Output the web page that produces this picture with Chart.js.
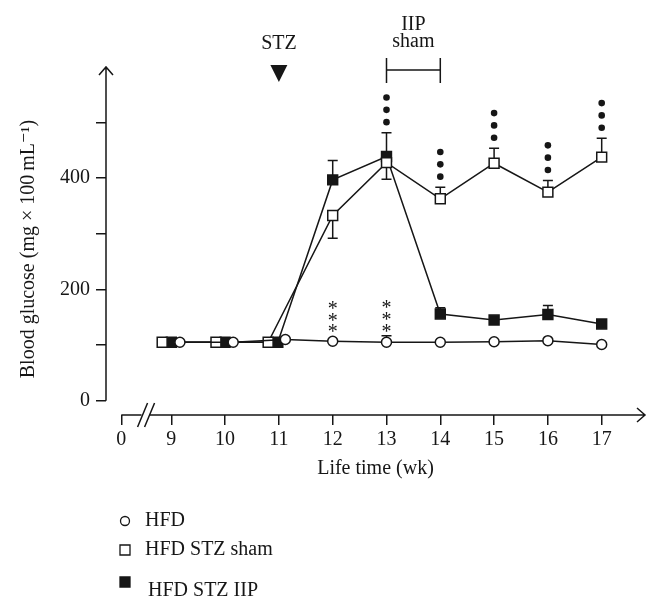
<!DOCTYPE html>
<html>
<head>
<meta charset="utf-8">
<script src="https://cdn.jsdelivr.net/npm/chart.js@4.4.1/dist/chart.umd.min.js"></script>
<style>
  html, body { margin: 0; padding: 0; background: #fff; }
  #wrap { width: 660px; height: 598px; position: relative; }
</style>
</head>
<body>
<div id="wrap"><canvas id="glucoseChart"></canvas></div>
<script>
/* ── Data ── */
const SERIES_NAMES = ['HFD', 'HFD STZ sham', 'HFD STZ IIP'];

const HFD_WEEKS  = [9.16, 10.15, 11.12, 12, 13, 14, 15, 16, 17];
const HFD_VALUES = [105, 105, 110, 107, 105, 105, 106, 108, 101];
const HFD_ERR    = [0, 0, 0, 0, 12, 0, 0, 0, 0];

const SHAM_WEEKS  = [8.83, 9.83, 10.8, 12, 13, 14, 15, 16, 17];
const SHAM_VALUES = [105, 105, 105, 333, 428, 363, 427, 375, 438];
const SHAM_ERR    = [0, 0, 0, -41, -30, 21, 27, 21, 34]; // negative = bar drawn downward

const IIP_WEEKS  = [9, 10, 10.98, 12, 13, 14, 15, 16, 17];
const IIP_VALUES = [105, 105, 105, 397, 439, 156, 145, 155, 138];
const IIP_ERR    = [0, 0, 0, 35, 43, 11, 0, 16, 0];

const X_TICKS       = [8.07, 9, 10, 11, 12, 13, 14, 15, 16, 17];
const X_TICK_LABELS = ['0', '9', '10', '11', '12', '13', '14', '15', '16', '17'];
const Y_TICKS       = [0, 100, 200, 300, 400, 500];
const Y_TICK_LABELS = ['0', '', '200', '', '400', ''];

const STZ_WEEK   = 11;
const IIP_PERIOD = [13, 14];
const DOT_WEEKS  = [13, 14, 15, 16, 17];
const STAR_WEEKS = [12, 13];
const AXIS_BREAK = 8.54;

const INK = '#161616';
const SERIF = "'Liberation Serif', 'DejaVu Serif', serif";

const toXY = (xs, ys) => xs.map((x, i) => ({ x: x, y: ys[i] }));
const ERRS = [HFD_ERR, SHAM_ERR, IIP_ERR];

/* ── Extras drawn on the canvas ── */
const figureExtras = {
  id: 'figureExtras',
  beforeDatasetsDraw(chart) {
    const { ctx, scales: { x, y } } = chart;
    ctx.save();
    ctx.strokeStyle = INK;
    ctx.lineWidth = 1.5;
    chart.data.datasets.forEach((ds, i) => {
      const meta = chart.getDatasetMeta(i);
      meta.data.forEach((pt, j) => {
        const e = ERRS[i][j];
        if (!e) return;
        const yEnd = y.getPixelForValue(ds.data[j].y + e);
        ctx.beginPath();
        ctx.moveTo(pt.x, pt.y);
        ctx.lineTo(pt.x, yEnd);
        ctx.moveTo(pt.x - 5, yEnd);
        ctx.lineTo(pt.x + 5, yEnd);
        ctx.stroke();
      });
    });
    ctx.restore();
  },
  afterDraw(chart) {
    const { ctx, chartArea: ca, scales: { x, y } } = chart;
    ctx.save();
    ctx.strokeStyle = INK;
    ctx.fillStyle = INK;
    ctx.lineWidth = 1.5;

    // y axis with arrow
    const y0 = y.getPixelForValue(0);
    ctx.beginPath();
    ctx.moveTo(ca.left, y0);
    ctx.lineTo(ca.left, ca.top);
    ctx.moveTo(ca.left - 7, ca.top + 8);
    ctx.lineTo(ca.left, ca.top);
    ctx.lineTo(ca.left + 7, ca.top + 8);
    ctx.stroke();

    // x axis with arrow
    const xStart = x.getPixelForValue(X_TICKS[0]);
    ctx.beginPath();
    ctx.moveTo(xStart, ca.bottom);
    ctx.lineTo(ca.right, ca.bottom);
    ctx.moveTo(ca.right - 8, ca.bottom - 7);
    ctx.lineTo(ca.right, ca.bottom);
    ctx.lineTo(ca.right - 8, ca.bottom + 7);
    ctx.stroke();

    // axis break //
    const xb = x.getPixelForValue(AXIS_BREAK);
    ctx.fillStyle = '#fff';
    ctx.fillRect(xb - 5, ca.bottom - 2, 8, 4);
    ctx.fillStyle = INK;
    ctx.beginPath();
    [-4, 3].forEach(dx => {
      ctx.moveTo(xb + dx - 5, ca.bottom + 12);
      ctx.lineTo(xb + dx + 5, ca.bottom - 12);
    });
    ctx.stroke();

    // STZ marker
    const xs = x.getPixelForValue(STZ_WEEK);
    ctx.beginPath();
    ctx.moveTo(xs - 8.5, ca.top - 2);
    ctx.lineTo(xs + 8.5, ca.top - 2);
    ctx.lineTo(xs, ca.top + 15);
    ctx.closePath();
    ctx.fill();

    ctx.font = '20px ' + SERIF;
    ctx.textAlign = 'center';
    ctx.textBaseline = 'middle';
    ctx.fillText('STZ', xs, ca.top - 23);

    // IIP / sham bracket
    const xa = x.getPixelForValue(IIP_PERIOD[0]);
    const xe = x.getPixelForValue(IIP_PERIOD[1]);
    const yb = ca.top + 3;
    ctx.beginPath();
    ctx.moveTo(xa, yb - 12); ctx.lineTo(xa, yb + 13);
    ctx.moveTo(xe, yb - 12); ctx.lineTo(xe, yb + 13);
    ctx.moveTo(xa, yb); ctx.lineTo(xe, yb);
    ctx.stroke();
    ctx.fillText('IIP', (xa + xe) / 2, ca.top - 42);
    ctx.fillText('sham', (xa + xe) / 2, ca.top - 25);

    // ••• above sham / IIP pairs
    DOT_WEEKS.forEach(w => {
      const j = SHAM_WEEKS.indexOf(w);
      const tops = [
        y.getPixelForValue(SHAM_VALUES[j] + Math.max(SHAM_ERR[j], 0)),
        y.getPixelForValue(IIP_VALUES[j] + Math.max(IIP_ERR[j], 0)),
        y.getPixelForValue(SHAM_VALUES[j]) - 5,
        y.getPixelForValue(IIP_VALUES[j]) - 5
      ];
      const base = Math.min(...tops) - 10.5;
      const px = x.getPixelForValue(w);
      for (let k = 0; k < 3; k++) {
        ctx.beginPath();
        ctx.arc(px, base - k * 12.3, 3.3, 0, Math.PI * 2);
        ctx.fill();
      }
    });

    // *** above HFD
    ctx.textBaseline = 'alphabetic';
    STAR_WEEKS.forEach(w => {
      const j = HFD_WEEKS.indexOf(w);
      const top = Math.min(
        y.getPixelForValue(HFD_VALUES[j] + Math.max(HFD_ERR[j], 0)),
        y.getPixelForValue(HFD_VALUES[j]) - 5
      );
      const px = x.getPixelForValue(w);
      for (let k = 0; k < 3; k++) {
        ctx.fillText('*', px, top - 7.5 - k * 11.6 + 9.5);
      }
    });

    // y title
    ctx.save();
    ctx.translate(29, (ca.top + ca.bottom) / 2 + 8);
    ctx.rotate(-Math.PI / 2);
    ctx.textBaseline = 'middle';
    ctx.fillText('Blood glucose (mg \u00d7 100\u2009mL\u207b\u00b9)', 0, 0);
    ctx.restore();

    // legend
    const legY = [521, 550, 582];
    ctx.textAlign = 'left';
    ctx.textBaseline = 'middle';
    chart.data.datasets.forEach((ds, i) => {
      const cy = legY[i];
      ctx.lineWidth = 1.3;
      ctx.fillStyle = ds.pointBackgroundColor;
      ctx.beginPath();
      if (ds.pointStyle === 'circle') ctx.arc(125, cy, 4.5, 0, Math.PI * 2);
      else ctx.rect(120, cy - 5, 10, 10);
      ctx.fill();
      ctx.stroke();
      ctx.fillStyle = INK;
      ctx.fillText(ds.label, i === 2 ? 148 : 145, i === 2 ? cy + 9 : cy);
    });
    ctx.restore();
  }
};

/* ── Chart ── */
window.addEventListener('DOMContentLoaded', () => {
  const ctx = document.getElementById('glucoseChart').getContext('2d');
  const common = {
    borderColor: INK,
    borderWidth: 1.5,
    pointBorderColor: INK,
    pointBorderWidth: 1.5,
    tension: 0,
    fill: false
  };
  new Chart(ctx, {
    type: 'line',
    data: {
      datasets: [
        Object.assign({ label: SERIES_NAMES[0], data: toXY(HFD_WEEKS, HFD_VALUES),
          pointStyle: 'circle', pointRadius: 5, pointBackgroundColor: '#fff' }, common),
        Object.assign({ label: SERIES_NAMES[1], data: toXY(SHAM_WEEKS, SHAM_VALUES),
          pointStyle: 'rect', pointRadius: 7, pointBackgroundColor: '#fff' }, common),
        Object.assign({ label: SERIES_NAMES[2], data: toXY(IIP_WEEKS, IIP_VALUES),
          pointStyle: 'rect', pointRadius: 7, pointBackgroundColor: INK }, common)
      ]
    },
    options: {
      responsive: true,
      maintainAspectRatio: false,
      animation: false,
      events: [],
      layout: { padding: { left: 0, top: 67, right: 15, bottom: 117 } },
      plugins: {
        legend: { display: false },
        tooltip: { enabled: false }
      },
      scales: {
        x: {
          type: 'linear',
          min: 7.786,
          max: 17.805,
          afterBuildTicks: s => { s.ticks = X_TICKS.map(v => ({ value: v })); },
          afterFit: s => { s.height = 66; },
          grid: { drawOnChartArea: false, drawTicks: true, tickLength: 10, color: INK, lineWidth: 1.5 },
          border: { display: false },
          ticks: {
            autoSkip: false, maxRotation: 0, padding: 3, color: INK,
            font: { family: SERIF, size: 20 },
            callback: (v, i) => X_TICK_LABELS[i]
          },
          title: {
            display: true, text: 'Life time (wk)', color: INK,
            font: { family: SERIF, size: 20 }, padding: { top: 0, bottom: 0 }
          }
        },
        y: {
          min: -25.7,
          max: 600,
          afterBuildTicks: s => { s.ticks = Y_TICKS.map(v => ({ value: v })); },
          afterFit: s => { s.width = 106; },
          grid: { drawOnChartArea: false, drawTicks: true, tickLength: 10, color: INK, lineWidth: 1.5 },
          border: { display: false },
          ticks: {
            padding: 6, color: INK,
            font: { family: SERIF, size: 20 },
            callback: (v, i) => Y_TICK_LABELS[i]
          }
        }
      }
    },
    plugins: [figureExtras]
  });
});
</script>
</body>
</html>
